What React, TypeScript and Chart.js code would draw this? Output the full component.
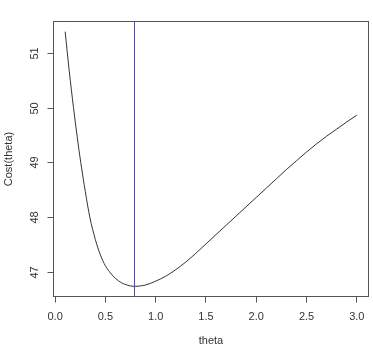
import React, { useEffect, useRef } from "react";
import { Chart, registerables } from "chart.js";

Chart.register(...registerables);

const thetaValues = [0.1, 0.14, 0.183, 0.22, 0.255, 0.3, 0.345, 0.4, 0.45, 0.5, 0.55, 0.6, 0.66, 0.72, 0.785, 0.9, 1.0, 1.1, 1.2, 1.3, 1.4, 1.5, 1.6, 1.7, 1.8, 1.9, 2.0, 2.1, 2.2, 2.3, 2.4, 2.5, 2.6, 2.7, 2.8, 2.9, 3.0];
const costValues = [51.39, 50.68, 50.0, 49.46, 49.0, 48.47, 48.0, 47.59, 47.31, 47.11, 46.98, 46.88, 46.8, 46.755, 46.735, 46.76, 46.83, 46.92, 47.04, 47.18, 47.34, 47.51, 47.68, 47.85, 48.02, 48.19, 48.36, 48.53, 48.7, 48.87, 49.03, 49.19, 49.34, 49.48, 49.61, 49.74, 49.865];
const thetaOptimum = 0.785;
const xTickValues = [0, 0.5, 1, 1.5, 2, 2.5, 3];
const yTickValues = [47, 48, 49, 50, 51];
const xTitle = "theta";
const yTitle = "Cost(theta)";

const FONT = "'Liberation Sans', Arial, Helvetica, sans-serif";
const TEXT = "#333333";
const AXIS = "#555555";

export default function App() {
  const ref = useRef<HTMLCanvasElement | null>(null);

  useEffect(() => {
    const canvas = ref.current;
    if (!canvas) return;
    const xmin = Math.min(...thetaValues);
    const xmax = Math.max(...thetaValues);
    const ymin = Math.min(...costValues);
    const ymax = Math.max(...costValues);
    const xr = (xmax - xmin) * 0.04;
    const yr = (ymax - ymin) * 0.04;

    const rPlot = {
      id: "rPlot",
      afterDatasetsDraw(chart: any) {
        const { ctx, chartArea: a, scales } = chart;
        const xs = scales.x;
        const ys = scales.y;
        ctx.save();
        // vertical optimum line
        const px = xs.getPixelForValue(thetaOptimum);
        ctx.strokeStyle = "#4848d4";
        ctx.lineWidth = 1;
        ctx.beginPath();
        ctx.moveTo(Math.round(px) + 0.5, a.top);
        ctx.lineTo(Math.round(px) + 0.5, a.bottom);
        ctx.stroke();
        // box
        ctx.strokeStyle = AXIS;
        ctx.lineWidth = 1;
        ctx.strokeRect(a.left, a.top, a.right - a.left, a.bottom - a.top);
        // y tick marks and rotated labels
        ctx.fillStyle = TEXT;
        ctx.font = `11px ${FONT}`;
        ctx.textAlign = "center";
        ctx.textBaseline = "middle";
        for (const v of yTickValues) {
          const py = Math.round(ys.getPixelForValue(v)) + 0.5;
          ctx.beginPath();
          ctx.moveTo(a.left, py);
          ctx.lineTo(a.left - 6, py);
          ctx.stroke();
          ctx.save();
          ctx.translate(35, py);
          ctx.rotate(-Math.PI / 2);
          ctx.fillText(String(v), 0, 0);
          ctx.restore();
        }
        ctx.restore();
      },
    };

    const chart = new Chart(canvas, {
      type: "scatter",
      data: {
        datasets: [
          {
            data: thetaValues.map((t, i) => ({ x: t, y: costValues[i] })),
            showLine: true,
            borderColor: "#333333",
            borderWidth: 1,
            pointRadius: 0,
            cubicInterpolationMode: "monotone",
          },
        ],
      },
      options: {
        animation: false,
        responsive: false,
        layout: { padding: { top: 21.5, right: 4.5, bottom: 0, left: 0 } },
        plugins: { legend: { display: false }, tooltip: { enabled: false } },
        scales: {
          x: {
            type: "linear",
            min: xmin - xr,
            max: xmax + xr,
            afterBuildTicks: (s: any) => {
              s.ticks = xTickValues.map((v) => ({ value: v }));
            },
            afterFit: (s: any) => {
              s.height = 53.5;
            },
            ticks: {
              color: TEXT,
              font: { family: FONT, size: 11 },
              padding: 8,
              maxRotation: 0,
              autoSkip: false,
              callback: (v: any) => Number(v).toFixed(1),
            },
            grid: { drawOnChartArea: false, drawTicks: true, tickLength: 6, color: AXIS },
            border: { display: false },
            title: {
              display: true,
              text: xTitle,
              color: TEXT,
              font: { family: FONT, size: 11 },
              padding: { top: 0, bottom: 2 },
            },
          },
          y: {
            type: "linear",
            min: ymin - yr,
            max: ymax + yr,
            afterBuildTicks: (s: any) => {
              s.ticks = yTickValues.map((v) => ({ value: v }));
            },
            afterFit: (s: any) => {
              s.width = 53.5;
            },
            ticks: { display: false },
            grid: { display: false },
            border: { display: false },
            title: {
              display: true,
              text: yTitle,
              color: TEXT,
              font: { family: FONT, size: 11 },
              padding: { top: 2, bottom: 0 },
            },
          },
        },
      },
      plugins: [rPlot],
    } as any);
    return () => chart.destroy();
  }, []);

  return (
    <div style={{ position: "absolute", left: 0, top: 0, width: 373, height: 350, background: "#fff" }}>
      <canvas ref={ref} width={373} height={350} style={{ display: "block" }} />
    </div>
  );
}
